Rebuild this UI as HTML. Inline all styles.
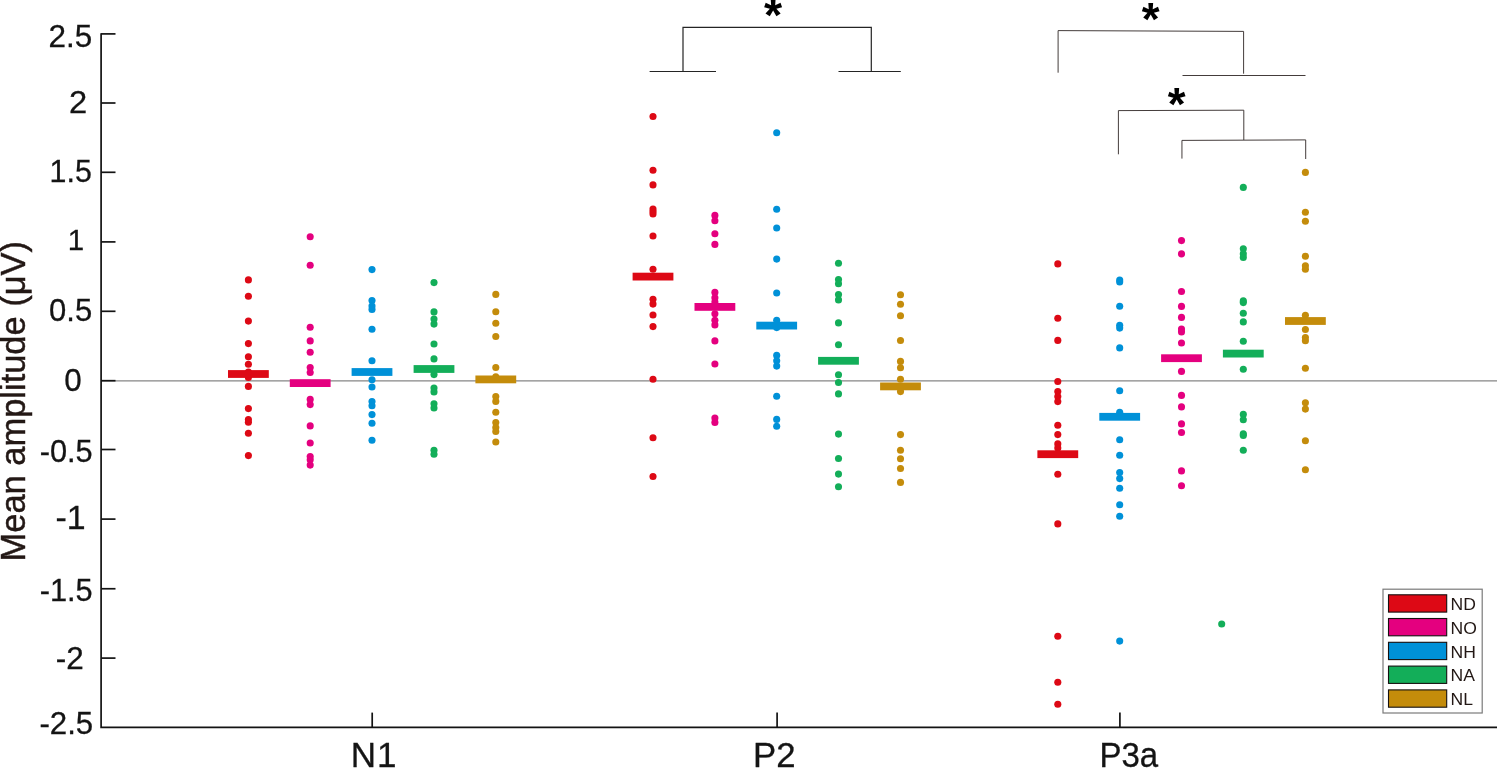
<!DOCTYPE html>
<html lang="en"><head><meta charset="utf-8"><title>Mean amplitude plot</title>
<style>html,body{margin:0;padding:0;background:#fff;}svg{display:block;}text{font-family:"Liberation Sans",Arial,Helvetica,sans-serif;}</style>
</head><body>
<svg width="1497" height="768" viewBox="0 0 1497 768">
<rect x="0" y="0" width="1497" height="768" fill="#ffffff"/>
<line x1="101" y1="380.8" x2="1497" y2="380.8" stroke="#868686" stroke-width="1.2"/>
<g fill="#DD0915">
<circle cx="248.4" cy="279.9" r="3.55"/>
<circle cx="248.4" cy="296.3" r="3.55"/>
<circle cx="248.4" cy="321.1" r="3.55"/>
<circle cx="248.4" cy="343.6" r="3.55"/>
<circle cx="248.4" cy="356.8" r="3.55"/>
<circle cx="248.4" cy="364.3" r="3.55"/>
<circle cx="248.4" cy="372.1" r="3.55"/>
<circle cx="248.4" cy="377.4" r="3.55"/>
<circle cx="248.4" cy="386.4" r="3.55"/>
<circle cx="248.4" cy="408.6" r="3.55"/>
<circle cx="248.4" cy="419.5" r="3.55"/>
<circle cx="248.4" cy="422.3" r="3.55"/>
<circle cx="248.4" cy="433.2" r="3.55"/>
<circle cx="248.4" cy="455.6" r="3.55"/>
<rect x="228.0" y="370.1" width="40.8" height="7.8"/>
</g>
<g fill="#E4007F">
<circle cx="310.2" cy="236.7" r="3.55"/>
<circle cx="310.2" cy="265.3" r="3.55"/>
<circle cx="310.2" cy="327.3" r="3.55"/>
<circle cx="310.2" cy="340.9" r="3.55"/>
<circle cx="310.2" cy="352.3" r="3.55"/>
<circle cx="310.2" cy="367.6" r="3.55"/>
<circle cx="310.2" cy="372.5" r="3.55"/>
<circle cx="310.2" cy="399.4" r="3.55"/>
<circle cx="310.2" cy="404.6" r="3.55"/>
<circle cx="310.2" cy="425.9" r="3.55"/>
<circle cx="310.2" cy="443.0" r="3.55"/>
<circle cx="310.2" cy="456.5" r="3.55"/>
<circle cx="310.2" cy="459.7" r="3.55"/>
<circle cx="310.2" cy="465.1" r="3.55"/>
<rect x="289.8" y="379.2" width="40.8" height="7.8"/>
</g>
<g fill="#0091D8">
<circle cx="372.0" cy="269.6" r="3.55"/>
<circle cx="372.0" cy="300.6" r="3.55"/>
<circle cx="372.0" cy="306.1" r="3.55"/>
<circle cx="372.0" cy="309.4" r="3.55"/>
<circle cx="372.0" cy="329.2" r="3.55"/>
<circle cx="372.0" cy="360.8" r="3.55"/>
<circle cx="372.0" cy="379.7" r="3.55"/>
<circle cx="372.0" cy="387.0" r="3.55"/>
<circle cx="372.0" cy="401.6" r="3.55"/>
<circle cx="372.0" cy="405.8" r="3.55"/>
<circle cx="372.0" cy="414.6" r="3.55"/>
<circle cx="372.0" cy="423.2" r="3.55"/>
<circle cx="372.0" cy="440.3" r="3.55"/>
<rect x="351.6" y="368.1" width="40.8" height="7.8"/>
</g>
<g fill="#13AE59">
<circle cx="434.0" cy="282.6" r="3.55"/>
<circle cx="434.0" cy="311.9" r="3.55"/>
<circle cx="434.0" cy="319.0" r="3.55"/>
<circle cx="434.0" cy="324.1" r="3.55"/>
<circle cx="434.0" cy="344.0" r="3.55"/>
<circle cx="434.0" cy="358.9" r="3.55"/>
<circle cx="434.0" cy="374.6" r="3.55"/>
<circle cx="434.0" cy="388.1" r="3.55"/>
<circle cx="434.0" cy="391.9" r="3.55"/>
<circle cx="434.0" cy="403.7" r="3.55"/>
<circle cx="434.0" cy="408.0" r="3.55"/>
<circle cx="434.0" cy="450.3" r="3.55"/>
<circle cx="434.0" cy="454.2" r="3.55"/>
<rect x="413.6" y="365.1" width="40.8" height="7.8"/>
</g>
<g fill="#C48C0B">
<circle cx="495.8" cy="294.4" r="3.55"/>
<circle cx="495.8" cy="311.7" r="3.55"/>
<circle cx="495.8" cy="323.3" r="3.55"/>
<circle cx="495.8" cy="336.5" r="3.55"/>
<circle cx="495.8" cy="367.5" r="3.55"/>
<circle cx="495.8" cy="376.7" r="3.55"/>
<circle cx="495.8" cy="396.6" r="3.55"/>
<circle cx="495.8" cy="401.4" r="3.55"/>
<circle cx="495.8" cy="412.3" r="3.55"/>
<circle cx="495.8" cy="422.5" r="3.55"/>
<circle cx="495.8" cy="427.6" r="3.55"/>
<circle cx="495.8" cy="431.5" r="3.55"/>
<circle cx="495.8" cy="442.0" r="3.55"/>
<rect x="475.4" y="375.5" width="40.8" height="7.8"/>
</g>
<g fill="#DD0915">
<circle cx="653.0" cy="116.5" r="3.55"/>
<circle cx="653.0" cy="170.3" r="3.55"/>
<circle cx="653.0" cy="184.9" r="3.55"/>
<circle cx="653.0" cy="209.0" r="3.55"/>
<circle cx="653.0" cy="211.5" r="3.55"/>
<circle cx="653.0" cy="214.0" r="3.55"/>
<circle cx="653.0" cy="236.0" r="3.55"/>
<circle cx="653.0" cy="269.3" r="3.55"/>
<circle cx="653.0" cy="299.2" r="3.55"/>
<circle cx="653.0" cy="304.1" r="3.55"/>
<circle cx="653.0" cy="315.0" r="3.55"/>
<circle cx="653.0" cy="326.6" r="3.55"/>
<circle cx="653.0" cy="379.3" r="3.55"/>
<circle cx="653.0" cy="437.8" r="3.55"/>
<circle cx="653.0" cy="476.5" r="3.55"/>
<rect x="632.6" y="272.7" width="40.8" height="7.8"/>
</g>
<g fill="#E4007F">
<circle cx="714.9" cy="215.4" r="3.55"/>
<circle cx="714.9" cy="220.8" r="3.55"/>
<circle cx="714.9" cy="233.8" r="3.55"/>
<circle cx="714.9" cy="244.4" r="3.55"/>
<circle cx="714.9" cy="292.4" r="3.55"/>
<circle cx="714.9" cy="297.7" r="3.55"/>
<circle cx="714.9" cy="302.0" r="3.55"/>
<circle cx="714.9" cy="313.7" r="3.55"/>
<circle cx="714.9" cy="320.2" r="3.55"/>
<circle cx="714.9" cy="324.9" r="3.55"/>
<circle cx="714.9" cy="340.9" r="3.55"/>
<circle cx="714.9" cy="364.0" r="3.55"/>
<circle cx="714.9" cy="418.1" r="3.55"/>
<circle cx="714.9" cy="422.4" r="3.55"/>
<rect x="694.5" y="303.0" width="40.8" height="7.8"/>
</g>
<g fill="#0091D8">
<circle cx="776.7" cy="132.7" r="3.55"/>
<circle cx="776.7" cy="209.2" r="3.55"/>
<circle cx="776.7" cy="228.0" r="3.55"/>
<circle cx="776.7" cy="259.1" r="3.55"/>
<circle cx="776.7" cy="293.0" r="3.55"/>
<circle cx="776.7" cy="320.2" r="3.55"/>
<circle cx="776.7" cy="327.6" r="3.55"/>
<circle cx="776.7" cy="355.4" r="3.55"/>
<circle cx="776.7" cy="360.8" r="3.55"/>
<circle cx="776.7" cy="366.1" r="3.55"/>
<circle cx="776.7" cy="396.3" r="3.55"/>
<circle cx="776.7" cy="419.4" r="3.55"/>
<circle cx="776.7" cy="426.2" r="3.55"/>
<rect x="756.3" y="321.7" width="40.8" height="7.8"/>
</g>
<g fill="#13AE59">
<circle cx="838.5" cy="263.3" r="3.55"/>
<circle cx="838.5" cy="279.5" r="3.55"/>
<circle cx="838.5" cy="283.8" r="3.55"/>
<circle cx="838.5" cy="294.5" r="3.55"/>
<circle cx="838.5" cy="299.9" r="3.55"/>
<circle cx="838.5" cy="322.9" r="3.55"/>
<circle cx="838.5" cy="344.7" r="3.55"/>
<circle cx="838.5" cy="374.7" r="3.55"/>
<circle cx="838.5" cy="382.5" r="3.55"/>
<circle cx="838.5" cy="393.9" r="3.55"/>
<circle cx="838.5" cy="434.1" r="3.55"/>
<circle cx="838.5" cy="458.5" r="3.55"/>
<circle cx="838.5" cy="474.1" r="3.55"/>
<circle cx="838.5" cy="486.7" r="3.55"/>
<rect x="818.1" y="356.9" width="40.8" height="7.8"/>
</g>
<g fill="#C48C0B">
<circle cx="900.5" cy="294.7" r="3.55"/>
<circle cx="900.5" cy="304.3" r="3.55"/>
<circle cx="900.5" cy="315.7" r="3.55"/>
<circle cx="900.5" cy="340.5" r="3.55"/>
<circle cx="900.5" cy="361.4" r="3.55"/>
<circle cx="900.5" cy="367.8" r="3.55"/>
<circle cx="900.5" cy="379.3" r="3.55"/>
<circle cx="900.5" cy="391.6" r="3.55"/>
<circle cx="900.5" cy="434.6" r="3.55"/>
<circle cx="900.5" cy="450.2" r="3.55"/>
<circle cx="900.5" cy="458.7" r="3.55"/>
<circle cx="900.5" cy="468.5" r="3.55"/>
<circle cx="900.5" cy="482.4" r="3.55"/>
<rect x="880.1" y="382.5" width="40.8" height="7.8"/>
</g>
<g fill="#DD0915">
<circle cx="1057.8" cy="263.9" r="3.55"/>
<circle cx="1057.8" cy="318.2" r="3.55"/>
<circle cx="1057.8" cy="340.4" r="3.55"/>
<circle cx="1057.8" cy="381.5" r="3.55"/>
<circle cx="1057.8" cy="391.5" r="3.55"/>
<circle cx="1057.8" cy="396.5" r="3.55"/>
<circle cx="1057.8" cy="401.6" r="3.55"/>
<circle cx="1057.8" cy="425.3" r="3.55"/>
<circle cx="1057.8" cy="434.6" r="3.55"/>
<circle cx="1057.8" cy="443.9" r="3.55"/>
<circle cx="1057.8" cy="448.0" r="3.55"/>
<circle cx="1057.8" cy="474.3" r="3.55"/>
<circle cx="1057.8" cy="523.9" r="3.55"/>
<circle cx="1057.8" cy="636.2" r="3.55"/>
<circle cx="1057.8" cy="682.2" r="3.55"/>
<circle cx="1057.8" cy="704.2" r="3.55"/>
<rect x="1037.4" y="450.3" width="40.8" height="7.8"/>
</g>
<g fill="#0091D8">
<circle cx="1119.7" cy="280.0" r="3.55"/>
<circle cx="1119.7" cy="282.0" r="3.55"/>
<circle cx="1119.7" cy="306.3" r="3.55"/>
<circle cx="1119.7" cy="325.3" r="3.55"/>
<circle cx="1119.7" cy="328.1" r="3.55"/>
<circle cx="1119.7" cy="347.9" r="3.55"/>
<circle cx="1119.7" cy="390.7" r="3.55"/>
<circle cx="1119.7" cy="412.3" r="3.55"/>
<circle cx="1119.7" cy="439.8" r="3.55"/>
<circle cx="1119.7" cy="455.3" r="3.55"/>
<circle cx="1119.7" cy="472.6" r="3.55"/>
<circle cx="1119.7" cy="478.6" r="3.55"/>
<circle cx="1119.7" cy="488.2" r="3.55"/>
<circle cx="1119.7" cy="504.7" r="3.55"/>
<circle cx="1119.7" cy="516.2" r="3.55"/>
<circle cx="1119.7" cy="641.1" r="3.55"/>
<rect x="1099.3" y="412.9" width="40.8" height="7.8"/>
</g>
<g fill="#E4007F">
<circle cx="1181.5" cy="240.6" r="3.55"/>
<circle cx="1181.5" cy="253.9" r="3.55"/>
<circle cx="1181.5" cy="291.5" r="3.55"/>
<circle cx="1181.5" cy="306.4" r="3.55"/>
<circle cx="1181.5" cy="317.4" r="3.55"/>
<circle cx="1181.5" cy="329.1" r="3.55"/>
<circle cx="1181.5" cy="331.9" r="3.55"/>
<circle cx="1181.5" cy="343.0" r="3.55"/>
<circle cx="1181.5" cy="371.4" r="3.55"/>
<circle cx="1181.5" cy="395.4" r="3.55"/>
<circle cx="1181.5" cy="406.9" r="3.55"/>
<circle cx="1181.5" cy="423.9" r="3.55"/>
<circle cx="1181.5" cy="432.5" r="3.55"/>
<circle cx="1181.5" cy="470.9" r="3.55"/>
<circle cx="1181.5" cy="485.8" r="3.55"/>
<rect x="1161.1" y="354.3" width="40.8" height="7.8"/>
</g>
<g fill="#13AE59">
<circle cx="1243.3" cy="187.4" r="3.55"/>
<circle cx="1243.3" cy="248.8" r="3.55"/>
<circle cx="1243.3" cy="253.7" r="3.55"/>
<circle cx="1243.3" cy="257.5" r="3.55"/>
<circle cx="1243.3" cy="300.9" r="3.55"/>
<circle cx="1243.3" cy="302.6" r="3.55"/>
<circle cx="1243.3" cy="313.3" r="3.55"/>
<circle cx="1243.3" cy="321.9" r="3.55"/>
<circle cx="1243.3" cy="341.3" r="3.55"/>
<circle cx="1243.3" cy="369.3" r="3.55"/>
<circle cx="1243.3" cy="414.4" r="3.55"/>
<circle cx="1243.3" cy="419.8" r="3.55"/>
<circle cx="1243.3" cy="433.9" r="3.55"/>
<circle cx="1243.3" cy="435.4" r="3.55"/>
<circle cx="1243.3" cy="450.3" r="3.55"/>
<rect x="1222.9" y="349.7" width="40.8" height="7.8"/>
</g>
<g fill="#C48C0B">
<circle cx="1305.4" cy="172.4" r="3.55"/>
<circle cx="1305.4" cy="212.2" r="3.55"/>
<circle cx="1305.4" cy="221.2" r="3.55"/>
<circle cx="1305.4" cy="256.2" r="3.55"/>
<circle cx="1305.4" cy="265.7" r="3.55"/>
<circle cx="1305.4" cy="269.3" r="3.55"/>
<circle cx="1305.4" cy="315.2" r="3.55"/>
<circle cx="1305.4" cy="329.5" r="3.55"/>
<circle cx="1305.4" cy="337.5" r="3.55"/>
<circle cx="1305.4" cy="340.7" r="3.55"/>
<circle cx="1305.4" cy="368.2" r="3.55"/>
<circle cx="1305.4" cy="402.7" r="3.55"/>
<circle cx="1305.4" cy="409.1" r="3.55"/>
<circle cx="1305.4" cy="440.8" r="3.55"/>
<circle cx="1305.4" cy="469.8" r="3.55"/>
<rect x="1285.0" y="317.1" width="40.8" height="7.8"/>
</g>
<circle cx="1221.7" cy="624.0" r="3.55" fill="#13AE59"/>
<g stroke="#131313" stroke-width="1.7" fill="none" stroke-linecap="butt">
<path d="M101.1 33.2 V727.3 H1497"/>
<line x1="101.1" y1="33.90" x2="115.5" y2="33.90"/>
<line x1="101.1" y1="103.00" x2="115.5" y2="103.00"/>
<line x1="101.1" y1="172.30" x2="115.5" y2="172.30"/>
<line x1="101.1" y1="241.90" x2="115.5" y2="241.90"/>
<line x1="101.1" y1="311.30" x2="115.5" y2="311.30"/>
<line x1="101.1" y1="380.70" x2="115.5" y2="380.70"/>
<line x1="101.1" y1="449.50" x2="115.5" y2="449.50"/>
<line x1="101.1" y1="519.10" x2="115.5" y2="519.10"/>
<line x1="101.1" y1="588.75" x2="115.5" y2="588.75"/>
<line x1="101.1" y1="658.10" x2="115.5" y2="658.10"/>
<line x1="372.2" y1="712.6" x2="372.2" y2="727.3"/>
<line x1="777.1" y1="712.6" x2="777.1" y2="727.3"/>
<line x1="1119.9" y1="712.6" x2="1119.9" y2="727.3"/>
</g>
<g fill="#141414" stroke="#141414" stroke-width="0.3">
<text transform="translate(48.48 47.18) scale(0.9916 1)" font-size="31.69">2.5</text>
<text transform="translate(68.97 112.90) scale(1.0338 1)" font-size="31.57">2</text>
<text transform="translate(49.62 182.38) scale(0.9502 1)" font-size="31.94">1.5</text>
<text transform="translate(67.79 249.90) scale(1.0132 1)" font-size="29.05">1</text>
<text transform="translate(49.06 321.48) scale(0.9780 1)" font-size="31.69">0.5</text>
<text transform="translate(64.25 390.69) scale(1.0032 1)" font-size="31.27">0</text>
<text transform="translate(39.72 461.89) scale(0.9974 1)" font-size="30.85">-0.5</text>
<text transform="translate(55.57 528.70) scale(1.0280 1)" font-size="32.99">-1</text>
<text transform="translate(39.72 601.08) scale(0.9763 1)" font-size="31.51">-1.5</text>
<text transform="translate(55.78 669.40) scale(1.0051 1)" font-size="31.29">-2</text>
<text transform="translate(39.44 733.88) scale(0.9766 1)" font-size="31.97">-2.5</text>
<text transform="translate(350.80 766.90) scale(1.0000 1)" font-size="35.04">N<tspan dx="0.9">1</tspan></text>
<text transform="translate(753.12 766.90) scale(0.9849 1)" font-size="35.33">P2</text>
<text transform="translate(1099.46 766.90) scale(0.9350 1)" font-size="35.33">P3a</text>
</g>
<text transform="translate(25.25 561.47) rotate(-90) scale(0.996 1.0379)" font-size="34.60" fill="#231815" stroke="#231815" stroke-width="0.45">Mean amplitude (μV)</text>
<path d="M649.6 71.5 H716 M838.5 71.5 H900.8 M683.0 71.5 V27.35 H871.3 V71.5" stroke="#242424" stroke-width="1.2" fill="none"/>
<g stroke="#3a3230" stroke-width="0.95" fill="none">
<path d="M1058.1 72.7 V30.6 L1243.6 31.4 V73.7 M1182.5 75.5 H1305.5"/>
<path d="M1118.4 154.3 V110.6 L1243.8 110.2 V140 M1181.95 158.6 V140.4 L1305.7 139.9 V159"/>
</g>
<g fill="#000">
<text transform="translate(763.97 30.90) scale(1.0001 1)" font-size="46.58" font-weight="bold">*</text>
<text transform="translate(1141.67 35.35) scale(1.0068 1)" font-size="45.48" font-weight="bold">*</text>
<text transform="translate(1167.67 119.63) scale(0.9948 1)" font-size="46.03" font-weight="bold">*</text>
</g>
<rect x="1383.0" y="589.2" width="99.2" height="123.8" fill="#fff" stroke="#7a7a7a" stroke-width="1.2"/>
<rect x="1388.5" y="594.8" width="58.2" height="17.3" fill="#DD0915" stroke="#151010" stroke-width="1.1"/>
<text transform="translate(1450.49 610.10) scale(1.0200 1)" font-size="17.23" fill="#231815">ND</text>
<rect x="1388.5" y="618.5" width="58.2" height="17.3" fill="#E4007F" stroke="#151010" stroke-width="1.1"/>
<text transform="translate(1450.49 633.70) scale(1.0200 1)" font-size="17.23" fill="#231815">NO</text>
<rect x="1388.5" y="642.3" width="58.2" height="17.3" fill="#0091D8" stroke="#151010" stroke-width="1.1"/>
<text transform="translate(1450.49 657.60) scale(1.0200 1)" font-size="17.23" fill="#231815">NH</text>
<rect x="1388.5" y="666.1" width="58.2" height="17.3" fill="#13AE59" stroke="#151010" stroke-width="1.1"/>
<text transform="translate(1450.49 681.30) scale(1.0200 1)" font-size="17.23" fill="#231815">NA</text>
<rect x="1388.5" y="689.9" width="58.2" height="17.3" fill="#C48C0B" stroke="#151010" stroke-width="1.1"/>
<text transform="translate(1450.49 705.20) scale(1.0200 1)" font-size="17.23" fill="#231815">NL</text>
</svg></body></html>
